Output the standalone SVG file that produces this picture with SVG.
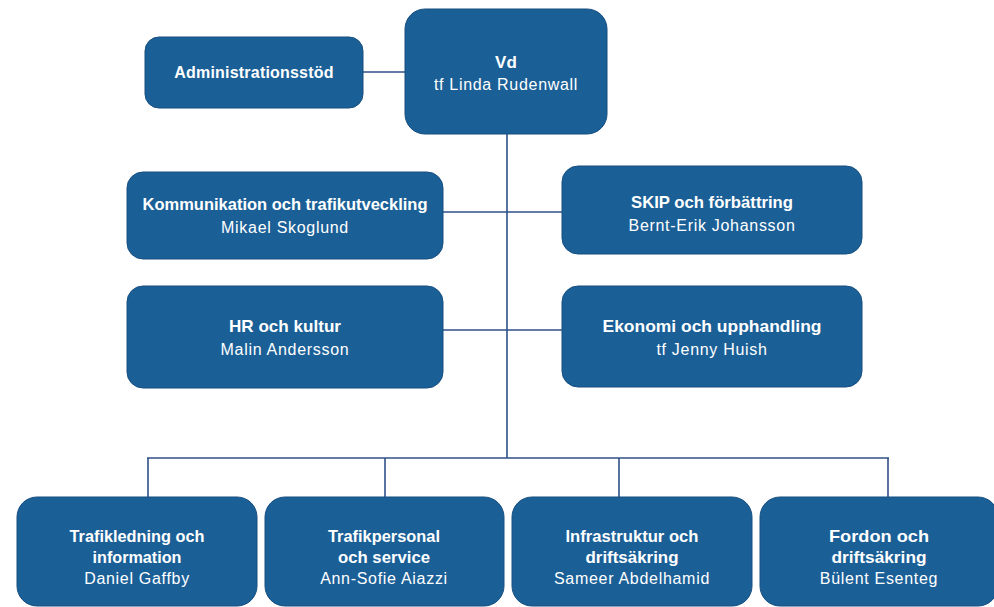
<svg xmlns="http://www.w3.org/2000/svg" width="994" height="607" viewBox="0 0 994 607">
<style>
.box{fill:#1b5f97;stroke:#174f80;stroke-width:1}
.t{font-family:"Liberation Sans",Arial,sans-serif;font-size:16px;font-weight:bold;fill:#ffffff;text-anchor:middle;letter-spacing:0.2px}
.tc{font-family:"Liberation Sans",Arial,sans-serif;font-size:17px;font-weight:bold;fill:#ffffff;text-anchor:middle}
.n{font-family:"Liberation Sans",Arial,sans-serif;font-size:16px;fill:#ffffff;text-anchor:middle;letter-spacing:0.7px}
.c{stroke:#2f5189;stroke-width:1.6;fill:none}
</style>
<rect width="994" height="607" fill="#ffffff"/>
<g id="connectors">
<line class="c" x1="363" y1="72" x2="405" y2="72"/>
<line class="c" x1="507" y1="134" x2="507" y2="458"/>
<line class="c" x1="443" y1="212" x2="562" y2="212"/>
<line class="c" x1="443" y1="330" x2="562" y2="330"/>
<line class="c" x1="147" y1="458" x2="889" y2="458"/>
<line class="c" x1="148" y1="458" x2="148" y2="497"/>
<line class="c" x1="385" y1="458" x2="385" y2="497"/>
<line class="c" x1="619" y1="458" x2="619" y2="497"/>
<line class="c" x1="888" y1="458" x2="888" y2="497"/>
</g>
<g id="vd">
<rect class="box" x="405" y="9" width="202" height="125" rx="20"/>
<text class="t" x="506" y="68" style="font-size:17px">Vd</text>
<text class="n" x="506" y="90">tf Linda Rudenwall</text>
</g>
<g id="admin">
<rect class="box" x="145" y="37" width="218" height="71" rx="14"/>
<text class="t" x="254" y="78">Administrationsstöd</text>
</g>
<g id="kommunikation">
<rect class="box" x="127" y="172" width="316" height="87" rx="16"/>
<text class="tc" x="285" y="210" textLength="285" lengthAdjust="spacingAndGlyphs">Kommunikation och trafikutveckling</text>
<text class="n" x="285" y="233">Mikael Skoglund</text>
</g>
<g id="skip">
<rect class="box" x="562" y="166" width="300" height="88" rx="16"/>
<text class="tc" x="712" y="208" textLength="162" lengthAdjust="spacingAndGlyphs">SKIP och förbättring</text>
<text class="n" x="712" y="231">Bernt-Erik Johansson</text>
</g>
<g id="hr">
<rect class="box" x="127" y="286" width="316" height="102" rx="16"/>
<text class="tc" x="285" y="332" textLength="112" lengthAdjust="spacingAndGlyphs">HR och kultur</text>
<text class="n" x="285" y="355">Malin Andersson</text>
</g>
<g id="ekonomi">
<rect class="box" x="562" y="286" width="300" height="101" rx="16"/>
<text class="tc" x="712" y="332" textLength="219" lengthAdjust="spacingAndGlyphs">Ekonomi och upphandling</text>
<text class="n" x="712" y="355">tf Jenny Huish</text>
</g>
<g id="trafikledning">
<rect class="box" x="17" y="497" width="240" height="109" rx="20"/>
<text class="tc" x="137" y="542" textLength="135" lengthAdjust="spacingAndGlyphs">Trafikledning och</text>
<text class="tc" x="137" y="563" textLength="89" lengthAdjust="spacingAndGlyphs">information</text>
<text class="n" x="137" y="584">Daniel Gaffby</text>
</g>
<g id="trafikpersonal">
<rect class="box" x="265" y="497" width="239" height="109" rx="20"/>
<text class="tc" x="384" y="542" textLength="112" lengthAdjust="spacingAndGlyphs">Trafikpersonal</text>
<text class="tc" x="384" y="563" textLength="92" lengthAdjust="spacingAndGlyphs">och service</text>
<text class="n" x="384" y="584">Ann-Sofie Aiazzi</text>
</g>
<g id="infrastruktur">
<rect class="box" x="512" y="497" width="240" height="109" rx="20"/>
<text class="tc" x="632" y="542" textLength="133" lengthAdjust="spacingAndGlyphs">Infrastruktur och</text>
<text class="tc" x="632" y="563" textLength="93" lengthAdjust="spacingAndGlyphs">driftsäkring</text>
<text class="n" x="632" y="584">Sameer Abdelhamid</text>
</g>
<g id="fordon">
<rect class="box" x="760" y="497" width="238" height="109" rx="20"/>
<text class="tc" x="879" y="542" textLength="100" lengthAdjust="spacingAndGlyphs">Fordon och</text>
<text class="tc" x="879" y="563" textLength="95" lengthAdjust="spacingAndGlyphs">driftsäkring</text>
<text class="n" x="879" y="584">Bülent Esenteg</text>
</g>
</svg>
